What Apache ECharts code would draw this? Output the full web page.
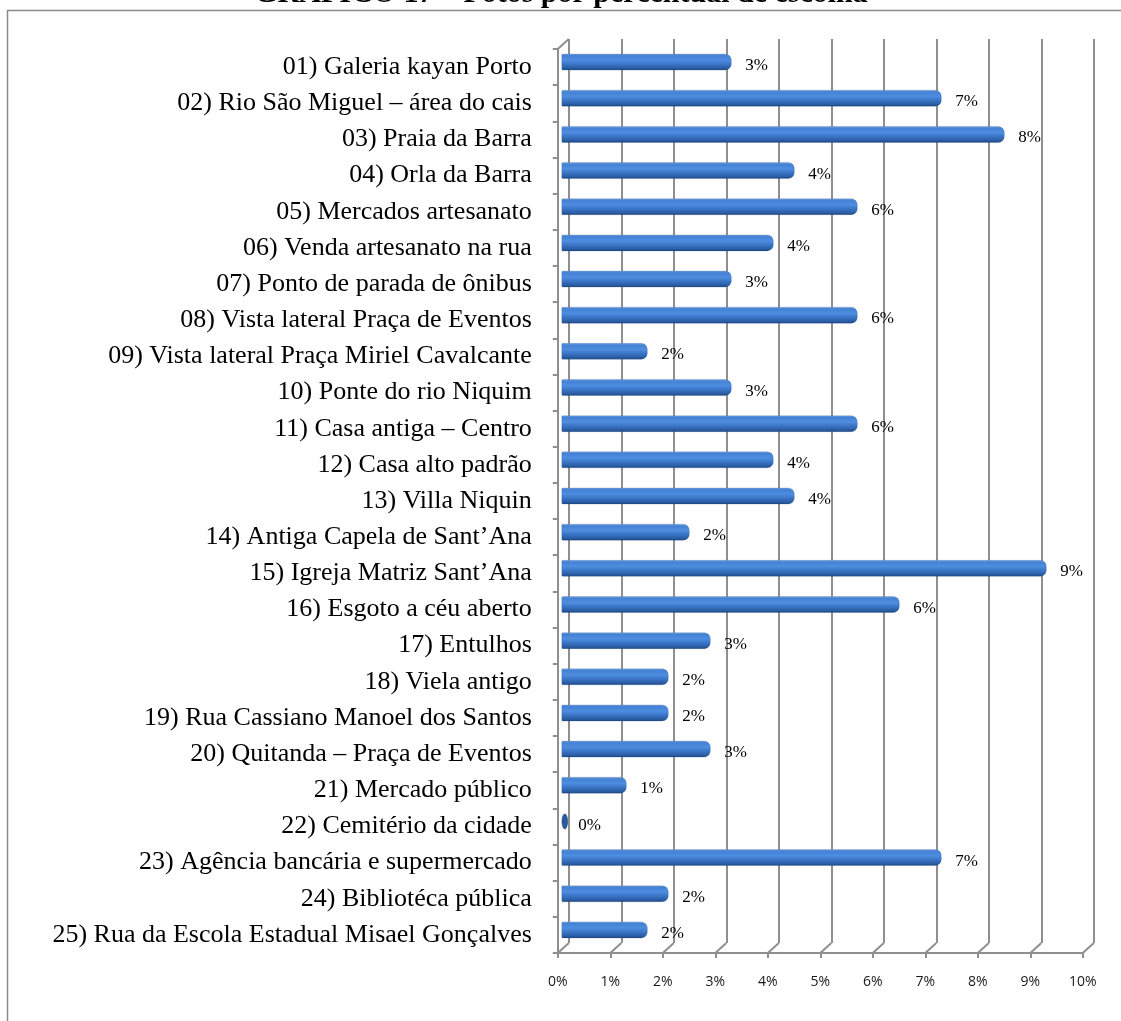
<!DOCTYPE html>
<html>
<head>
<meta charset="utf-8">
<title>GRÁFICO 17 – Fotos por percentual de escolha</title>
<script src="https://cdn.jsdelivr.net/npm/echarts@6/dist/echarts.min.js"></script>
<style>
  html, body { margin: 0; padding: 0; background: #fff; }
  #chart { width: 1121px; height: 1021px; }
</style>
</head>
<body>
<div id="chart"></div>
<script>
// Locais fotografados (ordem de cima para baixo)
const categories = [
  '01) Galeria kayan Porto',
  '02) Rio São Miguel – área do cais',
  '03) Praia da Barra',
  '04) Orla da Barra',
  '05) Mercados artesanato',
  '06) Venda artesanato na rua',
  '07) Ponto de parada de ônibus',
  '08) Vista lateral Praça de Eventos',
  '09) Vista lateral Praça Miriel Cavalcante',
  '10) Ponte do rio Niquim',
  '11) Casa antiga – Centro',
  '12) Casa alto padrão',
  '13) Villa Niquin',
  '14) Antiga Capela de Sant’Ana',
  '15) Igreja Matriz Sant’Ana',
  '16) Esgoto a céu aberto',
  '17) Entulhos',
  '18) Viela antigo',
  '19) Rua Cassiano Manoel dos Santos',
  '20) Quitanda – Praça de Eventos',
  '21) Mercado público',
  '22) Cemitério da cidade',
  '23) Agência bancária e supermercado',
  '24) Bibliotéca pública',
  '25) Rua da Escola Estadual Misael Gonçalves'
];

// Percentual de escolha de cada foto
const percentages = [
  3.2, 7.2, 8.4, 4.4, 5.6, 4.0, 3.2, 5.6, 1.6, 3.2,
  5.6, 4.0, 4.4, 2.4, 9.2, 6.4, 2.8, 2.0, 2.0, 2.8,
  1.2, 0.0, 7.2, 2.0, 1.6
];

// Marcas do eixo de valores (%)
const ticks = [0, 1, 2, 3, 4, 5, 6, 7, 8, 9, 10];

const chart = echarts.init(document.getElementById('chart'), null, { renderer: 'canvas' });

// Half of the 3D depth: the bars sit midway between the front plane and the back wall
const DX = 5.5, DY = 5;
const PLOT_W = 525, PLOT_H = 904;
const MID_LEFT = 563.3, MID_TOP = 44;
const GRID_COLOR = '#8f8f8f';

const tickMin = ticks[0], tickMax = ticks[ticks.length - 1];

function valueAxis(extra) {
  return Object.assign({
    type: 'value', min: tickMin, max: tickMax, interval: 1,
    axisLine: { show: false }, axisTick: { show: false },
    axisLabel: { show: false }, splitLine: { show: false }
  }, extra);
}
function categoryAxis(extra) {
  return Object.assign({
    type: 'category', data: categories, inverse: true,
    axisLine: { show: false }, axisTick: { show: false },
    axisLabel: { show: false }, splitLine: { show: false }
  }, extra);
}

const barGradient = new echarts.graphic.LinearGradient(0, 0, 0, 1, [
  { offset: 0, color: '#80a9e4' },
  { offset: 0.12, color: '#4281d4' },
  { offset: 0.38, color: '#4e8de0' },
  { offset: 0.62, color: '#3b76c7' },
  { offset: 0.86, color: '#2b5ea5' },
  { offset: 1, color: '#1c4580' }
]);

const option = {
  animation: false,
  backgroundColor: '#ffffff',
  grid: [
    // back wall
    { left: MID_LEFT + DX, top: MID_TOP - DY, width: PLOT_W, height: PLOT_H, outerBoundsMode: 'none', containLabel: false },
    // bars (mid depth)
    { left: MID_LEFT, top: MID_TOP, width: PLOT_W, height: PLOT_H, outerBoundsMode: 'none', containLabel: false },
    // front plane: axes and labels
    { left: MID_LEFT - DX, top: MID_TOP + DY, width: PLOT_W, height: PLOT_H, outerBoundsMode: 'none', containLabel: false }
  ],
  xAxis: [
    valueAxis({
      gridIndex: 0,
      splitLine: { show: true, lineStyle: { color: GRID_COLOR, width: 2 } }
    }),
    valueAxis({ gridIndex: 1 }),
    valueAxis({
      gridIndex: 2,
      axisLine: { show: true, lineStyle: { color: GRID_COLOR, width: 2 } },
      axisTick: { show: true, length: 5, lineStyle: { color: GRID_COLOR, width: 2 } },
      axisLabel: {
        show: true, margin: 22, color: '#1a1a1a',
        fontFamily: '"Open Sans", "Liberation Sans", sans-serif', fontSize: 14,
        formatter: v => v + '%'
      }
    })
  ],
  yAxis: [
    categoryAxis({ gridIndex: 0 }),
    categoryAxis({ gridIndex: 1 }),
    categoryAxis({
      gridIndex: 2,
      axisLine: { show: true, lineStyle: { color: GRID_COLOR, width: 2 } },
      axisTick: { show: true, length: 5, lineStyle: { color: GRID_COLOR, width: 2 } },
      axisLabel: {
        show: true, margin: 26, color: '#000',
        fontFamily: '"Liberation Serif", "Times New Roman", serif', fontSize: 26
      }
    })
  ],
  graphic: [
    {
      type: 'rect', silent: true, z: -10,
      shape: { x: 7.5, y: 10.5, width: 1130, height: 1030 },
      style: { fill: 'none', stroke: '#8a8a8a', lineWidth: 1.5 }
    },
    {
      type: 'text', silent: true,
      x: 561, y: 9,
      style: {
        text: 'GRÁFICO 17 – Fotos por percentual de escolha',
        fill: '#000', fontFamily: '"Liberation Serif", "Times New Roman", serif',
        fontWeight: 'bold', fontSize: 30, align: 'center', verticalAlign: 'bottom'
      }
    }
  ],
  series: [
    // floor and side-wall diagonals joining the front plane to the back wall
    {
      type: 'custom', xAxisIndex: 1, yAxisIndex: 1, silent: true, z: 1,
      data: ticks,
      renderItem: function (params, api) {
        const cs = params.coordSys;
        const x = api.coord([api.value(0), 0])[0];
        const bottom = cs.y + cs.height;
        const children = [{
          type: 'line',
          shape: { x1: x - DX, y1: bottom + DY, x2: x + DX, y2: bottom - DY },
          style: { stroke: GRID_COLOR, lineWidth: 2 }
        }];
        if (params.dataIndex === 0) {
          children.push({
            type: 'line',
            shape: { x1: cs.x - DX, y1: cs.y + DY, x2: cs.x + DX, y2: cs.y - DY },
            style: { stroke: GRID_COLOR, lineWidth: 2 }
          });
        }
        return { type: 'group', children: children };
      }
    },
    // cylinder bars with value labels
    {
      type: 'custom', xAxisIndex: 1, yAxisIndex: 1, z: 5,
      data: percentages.map((v, i) => [v, i]),
      renderItem: function (params, api) {
        const v = api.value(0);
        const idx = api.value(1);
        const start = api.coord([0, idx]);
        const end = api.coord([v, idx]);
        const h = 16;
        const children = [];
        if (end[0] - start[0] > 2) {
          children.push({
            type: 'rect',
            shape: { x: start[0] - 1.5, y: start[1] - h / 2, width: end[0] - start[0] + 1.5, height: h, r: [1, 6, 6, 1] },
            style: { fill: barGradient, stroke: 'rgba(30,70,130,0.35)', lineWidth: 0.6 }
          });
        } else {
          children.push({
            type: 'ellipse',
            shape: { cx: start[0] + 1.5, cy: start[1], rx: 2.8, ry: 7.5 },
            style: { fill: '#2a5a9c', stroke: '#1c4580', lineWidth: 0.6 }
          });
        }
        children.push({
          type: 'text',
          x: Math.max(end[0], start[0] + 1) + 14,
          y: end[1] + 3.6,
          style: {
            text: Math.round(v) + '%',
            fill: '#000',
            fontFamily: '"Liberation Serif", "Times New Roman", serif',
            fontSize: 17, align: 'left', verticalAlign: 'middle'
          }
        });
        return { type: 'group', children: children };
      }
    }
  ]
};

chart.setOption(option);
</script>
</body>
</html>
